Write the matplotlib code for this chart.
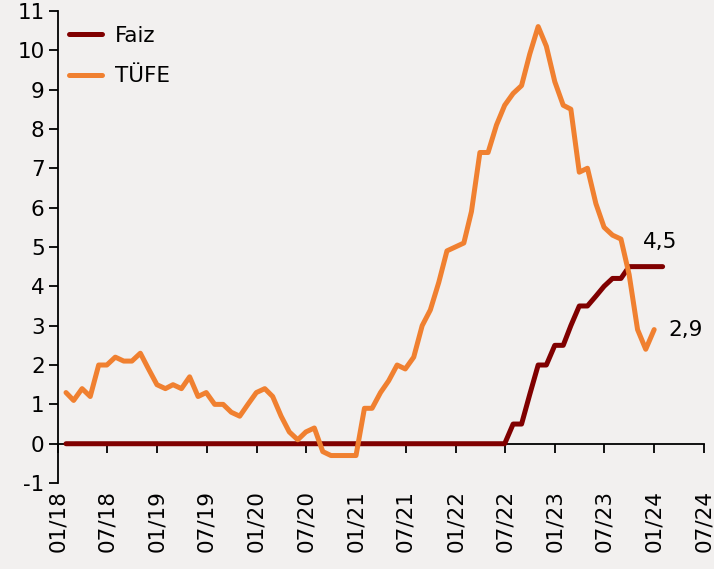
import matplotlib
matplotlib.use("Agg")
import matplotlib.pyplot as plt
import matplotlib.dates as mdates
import pandas as pd

plt.rcParams['font.family'] = ['DejaVu Sans']
plt.rcParams['axes.unicode_minus'] = False

# TÜFE (monthly, Jan 2018 - Dec 2023)
tufe = [1.3, 1.1, 1.4, 1.2, 2.0, 2.0, 2.2, 2.1, 2.1, 2.3, 1.9, 1.5,
        1.4, 1.5, 1.4, 1.7, 1.2, 1.3, 1.0, 1.0, 0.8, 0.7, 1.0, 1.3,
        1.4, 1.2, 0.7, 0.3, 0.1, 0.3, 0.4, -0.2, -0.3, -0.3, -0.3, -0.3,
        0.9, 0.9, 1.3, 1.6, 2.0, 1.9, 2.2, 3.0, 3.4, 4.1, 4.9, 5.0,
        5.1, 5.9, 7.4, 7.4, 8.1, 8.6, 8.9, 9.1, 9.9, 10.6, 10.1, 9.2,
        8.6, 8.5, 6.9, 7.0, 6.1, 5.5, 5.3, 5.2, 4.3, 2.9, 2.4, 2.9]
# Faiz (monthly, Jan 2018 - Jan 2024)
faiz = [0.0] * 54 + [0.5, 0.5, 1.25, 2.0, 2.0, 2.5,
                     2.5, 3.0, 3.5, 3.5, 3.75, 4.0, 4.2, 4.2, 4.5, 4.5, 4.5, 4.5,
                     4.5]

tufe_dates = pd.date_range("2018-01-31", periods=len(tufe), freq="ME")
faiz_dates = pd.date_range("2018-01-31", periods=len(faiz), freq="ME")

bg = "#f2f0ef"
fig = plt.figure(figsize=(7.14, 5.69), dpi=100, facecolor=bg)
ax = fig.add_axes([0.081, 0.151, 0.905, 0.830], facecolor=bg)

ax.plot(faiz_dates, faiz, color="#800000", lw=3.6, label="Faiz",
        solid_capstyle="round", solid_joinstyle="round", zorder=3)
ax.plot(tufe_dates, tufe, color="#f08030", lw=3.6, label="TÜFE",
        solid_capstyle="round", solid_joinstyle="round", zorder=4)

ax.set_ylim(-1, 11)
ax.set_yticks(range(-1, 12))
ax.set_xlim(pd.Timestamp("2018-01-01"), pd.Timestamp("2024-07-01"))
ax.xaxis.set_major_locator(mdates.MonthLocator(bymonth=[1, 7]))
ax.xaxis.set_major_formatter(mdates.DateFormatter("%m/%y"))

ax.spines['top'].set_visible(False)
ax.spines['right'].set_visible(False)
ax.spines['bottom'].set_position(('data', 0))
for s in ('left', 'bottom'):
    ax.spines[s].set_linewidth(1.3)
    ax.spines[s].set_color("black")

ax.tick_params(axis='y', direction='out', length=6.5, width=1.3, labelsize=15.5, pad=3)
ax.tick_params(axis='x', direction='out', length=6.5, width=1.3, labelsize=15.5,
               labelrotation=90, pad=27)

ax.annotate("4,5", xy=(faiz_dates[-1], faiz[-1]), xytext=(-14, 18),
            textcoords="offset points", ha="left", va="center", fontsize=15.5)
ax.annotate("2,9", xy=(tufe_dates[-1], tufe[-1]), xytext=(10, 0),
            textcoords="offset points", ha="left", va="center", fontsize=15.5)

leg = ax.legend(loc="upper left", bbox_to_anchor=(-0.006, 1.0), frameon=False,
                fontsize=15.5, handlelength=1.55, handletextpad=0.6,
                labelspacing=0.95, borderaxespad=0.3)

fig.savefig("out.png", dpi=100, facecolor=bg)
